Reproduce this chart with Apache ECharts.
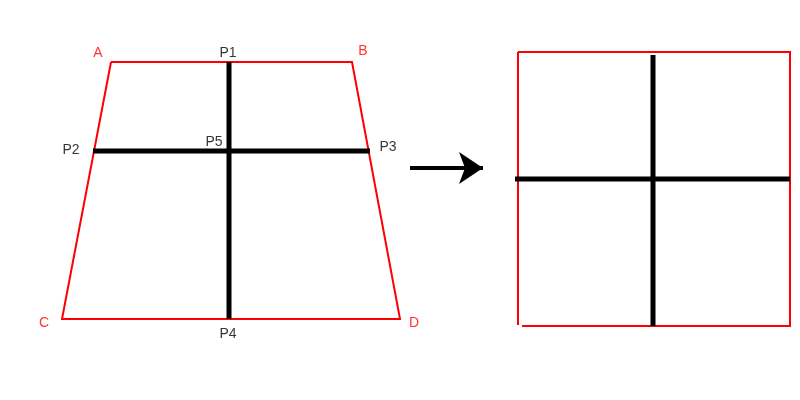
<!DOCTYPE html>
<html>
<head>
<meta charset="utf-8">
<script src="https://cdn.jsdelivr.net/npm/echarts@6/dist/echarts.min.js"></script>
<style>
  html, body { margin: 0; padding: 0; background: #fff; }
  #main { width: 800px; height: 400px; }
</style>
</head>
<body>
<div id="main"></div>
<script>
// outlines (red)
var trapezoid = [[111, 62], [352, 62], [400, 319], [62, 319], [111, 62]];
var square = [[518, 52], [790, 52], [790, 326], [522, 326]];
var squareLeft = [[518, 52], [518, 325]];

// crosses (black)
var crossLeftV = [[229, 62], [229, 319]];
var crossLeftH = [[93, 151], [370, 151]];
var crossRightV = [[653, 55], [653, 326]];
var crossRightH = [[515, 179], [790, 179]];

// arrow
var arrow = [[410, 168], [483, 168]];

// labels
var redLabels = [['A', 98, 53], ['B', 363, 51], ['C', 44, 323], ['D', 414, 323]];
var blackLabels = [['P1', 228, 53], ['P2', 71, 150], ['P3', 388, 147], ['P4', 228, 334], ['P5', 214, 142]];

var myChart = echarts.init(document.getElementById('main'));

function lineSeries(pts, color, width) {
    return {
        type: 'line',
        data: pts,
        symbol: 'none',
        silent: true,
        animation: false,
        lineStyle: { color: color, width: width, cap: 'butt', join: 'miter' }
    };
}

function labelSeries(items, color) {
    return {
        type: 'scatter',
        symbolSize: 0,
        silent: true,
        animation: false,
        data: items.map(function (d) { return { name: d[0], value: [d[1], d[2]] }; }),
        label: {
            show: true,
            position: 'inside',
            formatter: '{b}',
            color: color,
            textBorderWidth: 0,
            fontFamily: 'Liberation Sans, Arial, sans-serif',
            fontSize: 14
        }
    };
}

var option = {
    backgroundColor: '#fff',
    grid: { left: 0, right: 0, top: 0, bottom: 0 },
    xAxis: { type: 'value', min: 0, max: 800, show: false },
    yAxis: { type: 'value', min: 0, max: 400, inverse: true, show: false },
    series: [
        lineSeries(trapezoid, '#ff0000', 2),
        lineSeries(square, '#ff0000', 2),
        lineSeries(squareLeft, '#ff0000', 2),
        lineSeries(crossLeftV, '#000', 5),
        lineSeries(crossLeftH, '#000', 5),
        lineSeries(crossRightV, '#000', 5),
        lineSeries(crossRightH, '#000', 5),
        {
            type: 'lines',
            coordinateSystem: 'cartesian2d',
            silent: true,
            animation: false,
            symbol: ['none', 'arrow'],
            symbolSize: [20, 24],
            lineStyle: { color: '#000', width: 4, opacity: 1 },
            data: [{ coords: arrow }]
        },
        labelSeries(redLabels, '#ff0000'),
        labelSeries(blackLabels, '#000')
    ]
};

myChart.setOption(option);
</script>
</body>
</html>
